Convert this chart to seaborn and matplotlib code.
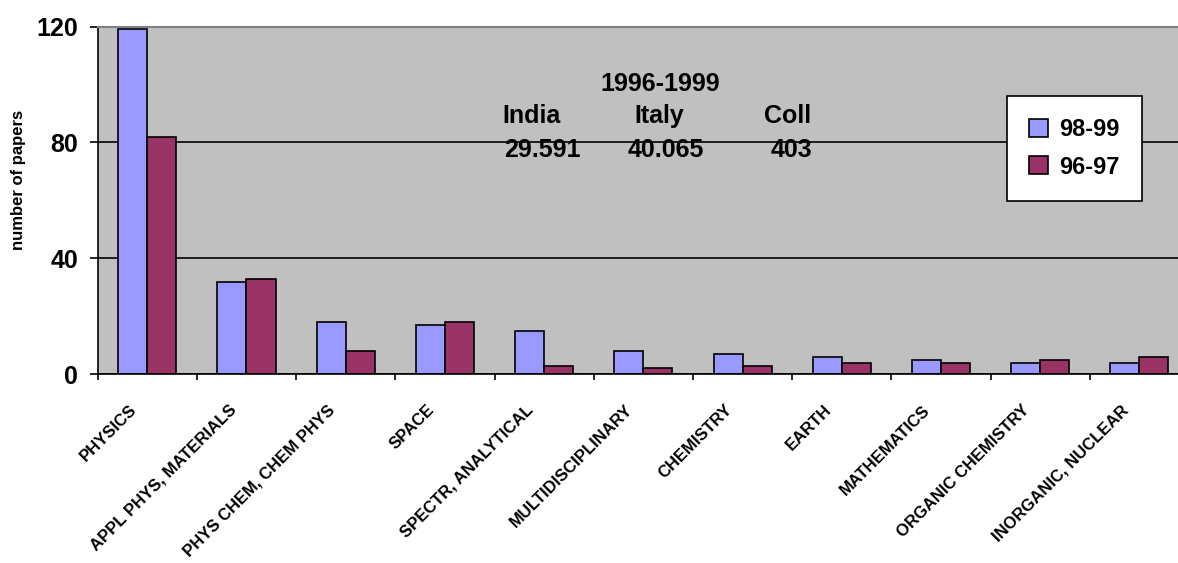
import pandas as pd
import seaborn as sns
import matplotlib.pyplot as plt
from matplotlib.transforms import ScaledTranslation

# papers per field, India-Italy collaboration
fields = ['PHYSICS', 'APPL PHYS, MATERIALS', 'PHYS CHEM, CHEM PHYS', 'SPACE',
          'SPECTR, ANALYTICAL', 'MULTIDISCIPLINARY', 'CHEMISTRY', 'EARTH',
          'MATHEMATICS', 'ORGANIC CHEMISTRY', 'INORGANIC, NUCLEAR']
papers_98_99 = [119, 32, 18, 17, 15, 8, 7, 6, 5, 4, 4]
papers_96_97 = [82, 33, 8, 18, 3, 2, 3, 4, 4, 5, 6]
periods = ['98-99', '96-97']
yticks = [0, 40, 80, 120]

df = pd.DataFrame({
    'field': fields * 2,
    'period': [periods[0]] * len(fields) + [periods[1]] * len(fields),
    'papers': papers_98_99 + papers_96_97,
})

sns.set_style('white')
plt.rcParams['font.family'] = ['Liberation Sans', 'DejaVu Sans']
plt.rcParams['font.weight'] = 'bold'
for k in ['text.color', 'axes.labelcolor', 'xtick.color', 'ytick.color']:
    plt.rcParams[k] = 'black'

fig = plt.figure(figsize=(11.78, 5.63), dpi=100)
ax = fig.add_axes([0.0829, 0.3352, 0.9265, 0.6177])

sns.barplot(data=df, x='field', y='papers', hue='period', order=fields,
            hue_order=periods, palette=['#9999FF', '#993366'], saturation=1,
            width=0.585, edgecolor='black', linewidth=1.2, errorbar=None, ax=ax)

ax.set_facecolor('#C0C0C0')
ax.set_xlim(-0.5, len(fields) - 0.5)
ax.set_ylim(0, 120)
ax.set_yticks(yticks)
ax.set_axisbelow(True)
ax.yaxis.grid(True, color='black', linewidth=1.2)
ax.xaxis.grid(False)

for side in ['left', 'bottom']:
    ax.spines[side].set_color('black')
    ax.spines[side].set_linewidth(1.2)
ax.spines['top'].set_color('#808080')
ax.spines['top'].set_linewidth(1.5)
ax.spines['right'].set_visible(False)

# ticks between the categories, labels at centres
ax.set_xticks([i + 0.5 for i in range(-1, len(fields))], minor=True)
ax.tick_params(axis='x', which='minor', length=4, width=1.2, direction='out', color='black', bottom=True)
ax.tick_params(axis='x', which='major', length=0, pad=24, labelsize=12)
ax.set_xticks(range(len(fields)))
ax.set_xticklabels(fields, rotation=45, ha='right', va='center', rotation_mode='anchor',
                   fontweight='bold')
shift = ScaledTranslation(-13 / 100, 0, fig.dpi_scale_trans)
for lab in ax.get_xticklabels():
    lab.set_transform(lab.get_transform() + shift)

ax.tick_params(axis='y', length=6, width=1.2, direction='out', color='black', left=True,
               pad=8, labelsize=18)
ax.set_xlabel('')
ax.set_ylabel('number of papers', fontsize=12, fontweight='bold')
ax.yaxis.set_label_coords(-0.066, 0.56)

handles, labels = ax.get_legend_handles_labels()
leg = ax.legend(handles, labels, loc='upper left', bbox_to_anchor=(1007 / 1178, 1 - 96 / 563),
                bbox_transform=fig.transFigure, borderaxespad=0, frameon=True, fancybox=False,
                framealpha=1, edgecolor='black', facecolor='white',
                handlelength=0.8, handleheight=0.8, handletextpad=0.45, labelspacing=0.6,
                borderpad=0.95, prop={'weight': 'bold', 'size': 17})
leg.get_frame().set_linewidth(1.2)

# summary text block
txt = dict(fontsize=18, fontweight='bold', ha='center', va='center')
fig.text(660 / 1178, 1 - 84 / 563, '1996-1999', **txt)
fig.text(532 / 1178, 1 - 116 / 563, 'India', **txt)
fig.text(659 / 1178, 1 - 116 / 563, 'Italy', **txt)
fig.text(788 / 1178, 1 - 116 / 563, 'Coll', **txt)
fig.text(542 / 1178, 1 - 150 / 563, '29.591', **txt)
fig.text(666 / 1178, 1 - 150 / 563, '40.065', **txt)
fig.text(791 / 1178, 1 - 150 / 563, '403', **txt)

fig.savefig('out.png', dpi=100)
